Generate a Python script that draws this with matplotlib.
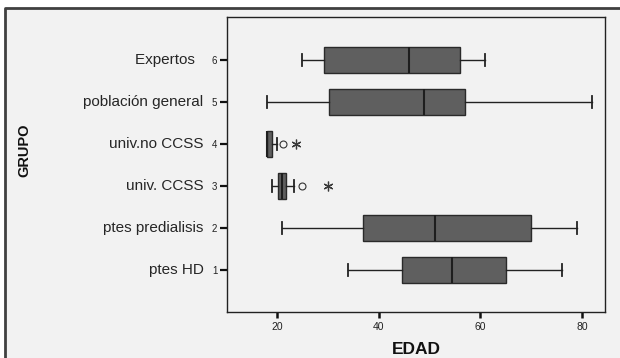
import matplotlib.pyplot as plt
import matplotlib.patches as mpatches
import matplotlib.lines as mlines

plt.rcParams['font.family'] = ['Liberation Sans', 'DejaVu Sans']

# group labels (value codes 1..6 on the y axis)
grupos = ['ptes HD', 'ptes predialisis', 'univ. CCSS', 'univ.no CCSS',
          'población general', 'Expertos  ']
codigos = [1, 2, 3, 4, 5, 6]

# five-number summaries of EDAD per group
whis_lo = [34, 21, 19, 18, 18, 25]
q1 = [44.6, 37, 20.3, 18, 30.3, 29.2]
mediana = [54.4, 51, 21, 18, 49, 46]
q3 = [65, 70, 21.8, 19.1, 57, 56]
whis_hi = [76, 79, 23.3, 20, 82, 61]

# outliers (circles) and extremes (stars)
atipicos = [[], [], [25], [21.2], [], []]
extremos = [[], [], [30], [23.8], [], []]

x_ticks = [20, 40, 60, 80]

fig = plt.figure(figsize=(6.2, 3.58), dpi=100)
fig.patch.set_facecolor('white')

# grey panel with dark border on left and top
panel = mpatches.Rectangle((5 / 620, 0), 1, 1 - 8 / 358, transform=fig.transFigure,
                           facecolor='#f2f2f2', edgecolor='none', zorder=-2)
fig.patches.append(panel)
fig.lines.append(mlines.Line2D([5 / 620, 5 / 620, 1], [0, 1 - 8 / 358, 1 - 8 / 358],
                               transform=fig.transFigure, color='#404040', lw=2,
                               zorder=-1))

ax = fig.add_axes([227 / 620, 1 - 312 / 358, 378 / 620, 295 / 358])
ax.set_facecolor('#f2f2f2')

stats = []
for i in range(len(grupos)):
    stats.append(dict(whislo=whis_lo[i], q1=q1[i], med=mediana[i], q3=q3[i],
                      whishi=whis_hi[i], fliers=[]))

ax.bxp(stats, positions=codigos, vert=False, widths=0.62, patch_artist=True,
       showfliers=False,
       boxprops=dict(facecolor='#5f5f5f', edgecolor='#2a2a2a', linewidth=1.0),
       medianprops=dict(color='#1e1e1e', linewidth=1.5),
       whiskerprops=dict(color='#222222', linewidth=1.0),
       capprops=dict(color='#222222', linewidth=1.3), capwidths=0.3)

for pos, vals in zip(codigos, atipicos):
    if vals:
        ax.plot(vals, [pos] * len(vals), 'o', ms=5, mfc='none', mec='#333333', mew=0.8)
for pos, vals in zip(codigos, extremos):
    if vals:
        ax.plot(vals, [pos] * len(vals), ls='none', marker=(6, 2, 0), ms=7,
                mec='#3a3a3a', mew=0.9)

ax.set_xlim(10.2, 84.5)
ax.set_ylim(0, 7.02)
ax.set_xticks(x_ticks)
ax.set_xticklabels([str(v) for v in x_ticks], fontsize=7.5, color='#222222')
ax.set_yticks(codigos)
ax.set_yticklabels([str(c) for c in codigos], fontsize=7, color='#222222')
ax.tick_params(axis='x', length=4, width=1.8, color='#111111', pad=3)
ax.tick_params(axis='y', length=5, width=1.6, color='#111111', pad=2)

for sp in ax.spines.values():
    sp.set_color('#222222')
    sp.set_linewidth(1.0)

for pos, nombre in zip(codigos, grupos):
    ax.annotate(nombre, xy=(0, pos), xycoords=('axes fraction', 'data'),
                xytext=(-17, 0), textcoords='offset points', ha='right', va='center',
                fontsize=11, color='#262626')

fig.text((227 + 605) / 2 / 620, 1 - 350 / 358, 'EDAD', ha='center', va='center',
         fontsize=12.5, fontweight='bold', color='#111111')
fig.text(24 / 620, 1 - 150 / 358, 'GRUPO', ha='center', va='center', rotation=90,
         fontsize=10.5, fontweight='bold', color='#111111')

fig.savefig('out.png', dpi=100, facecolor=fig.get_facecolor())
